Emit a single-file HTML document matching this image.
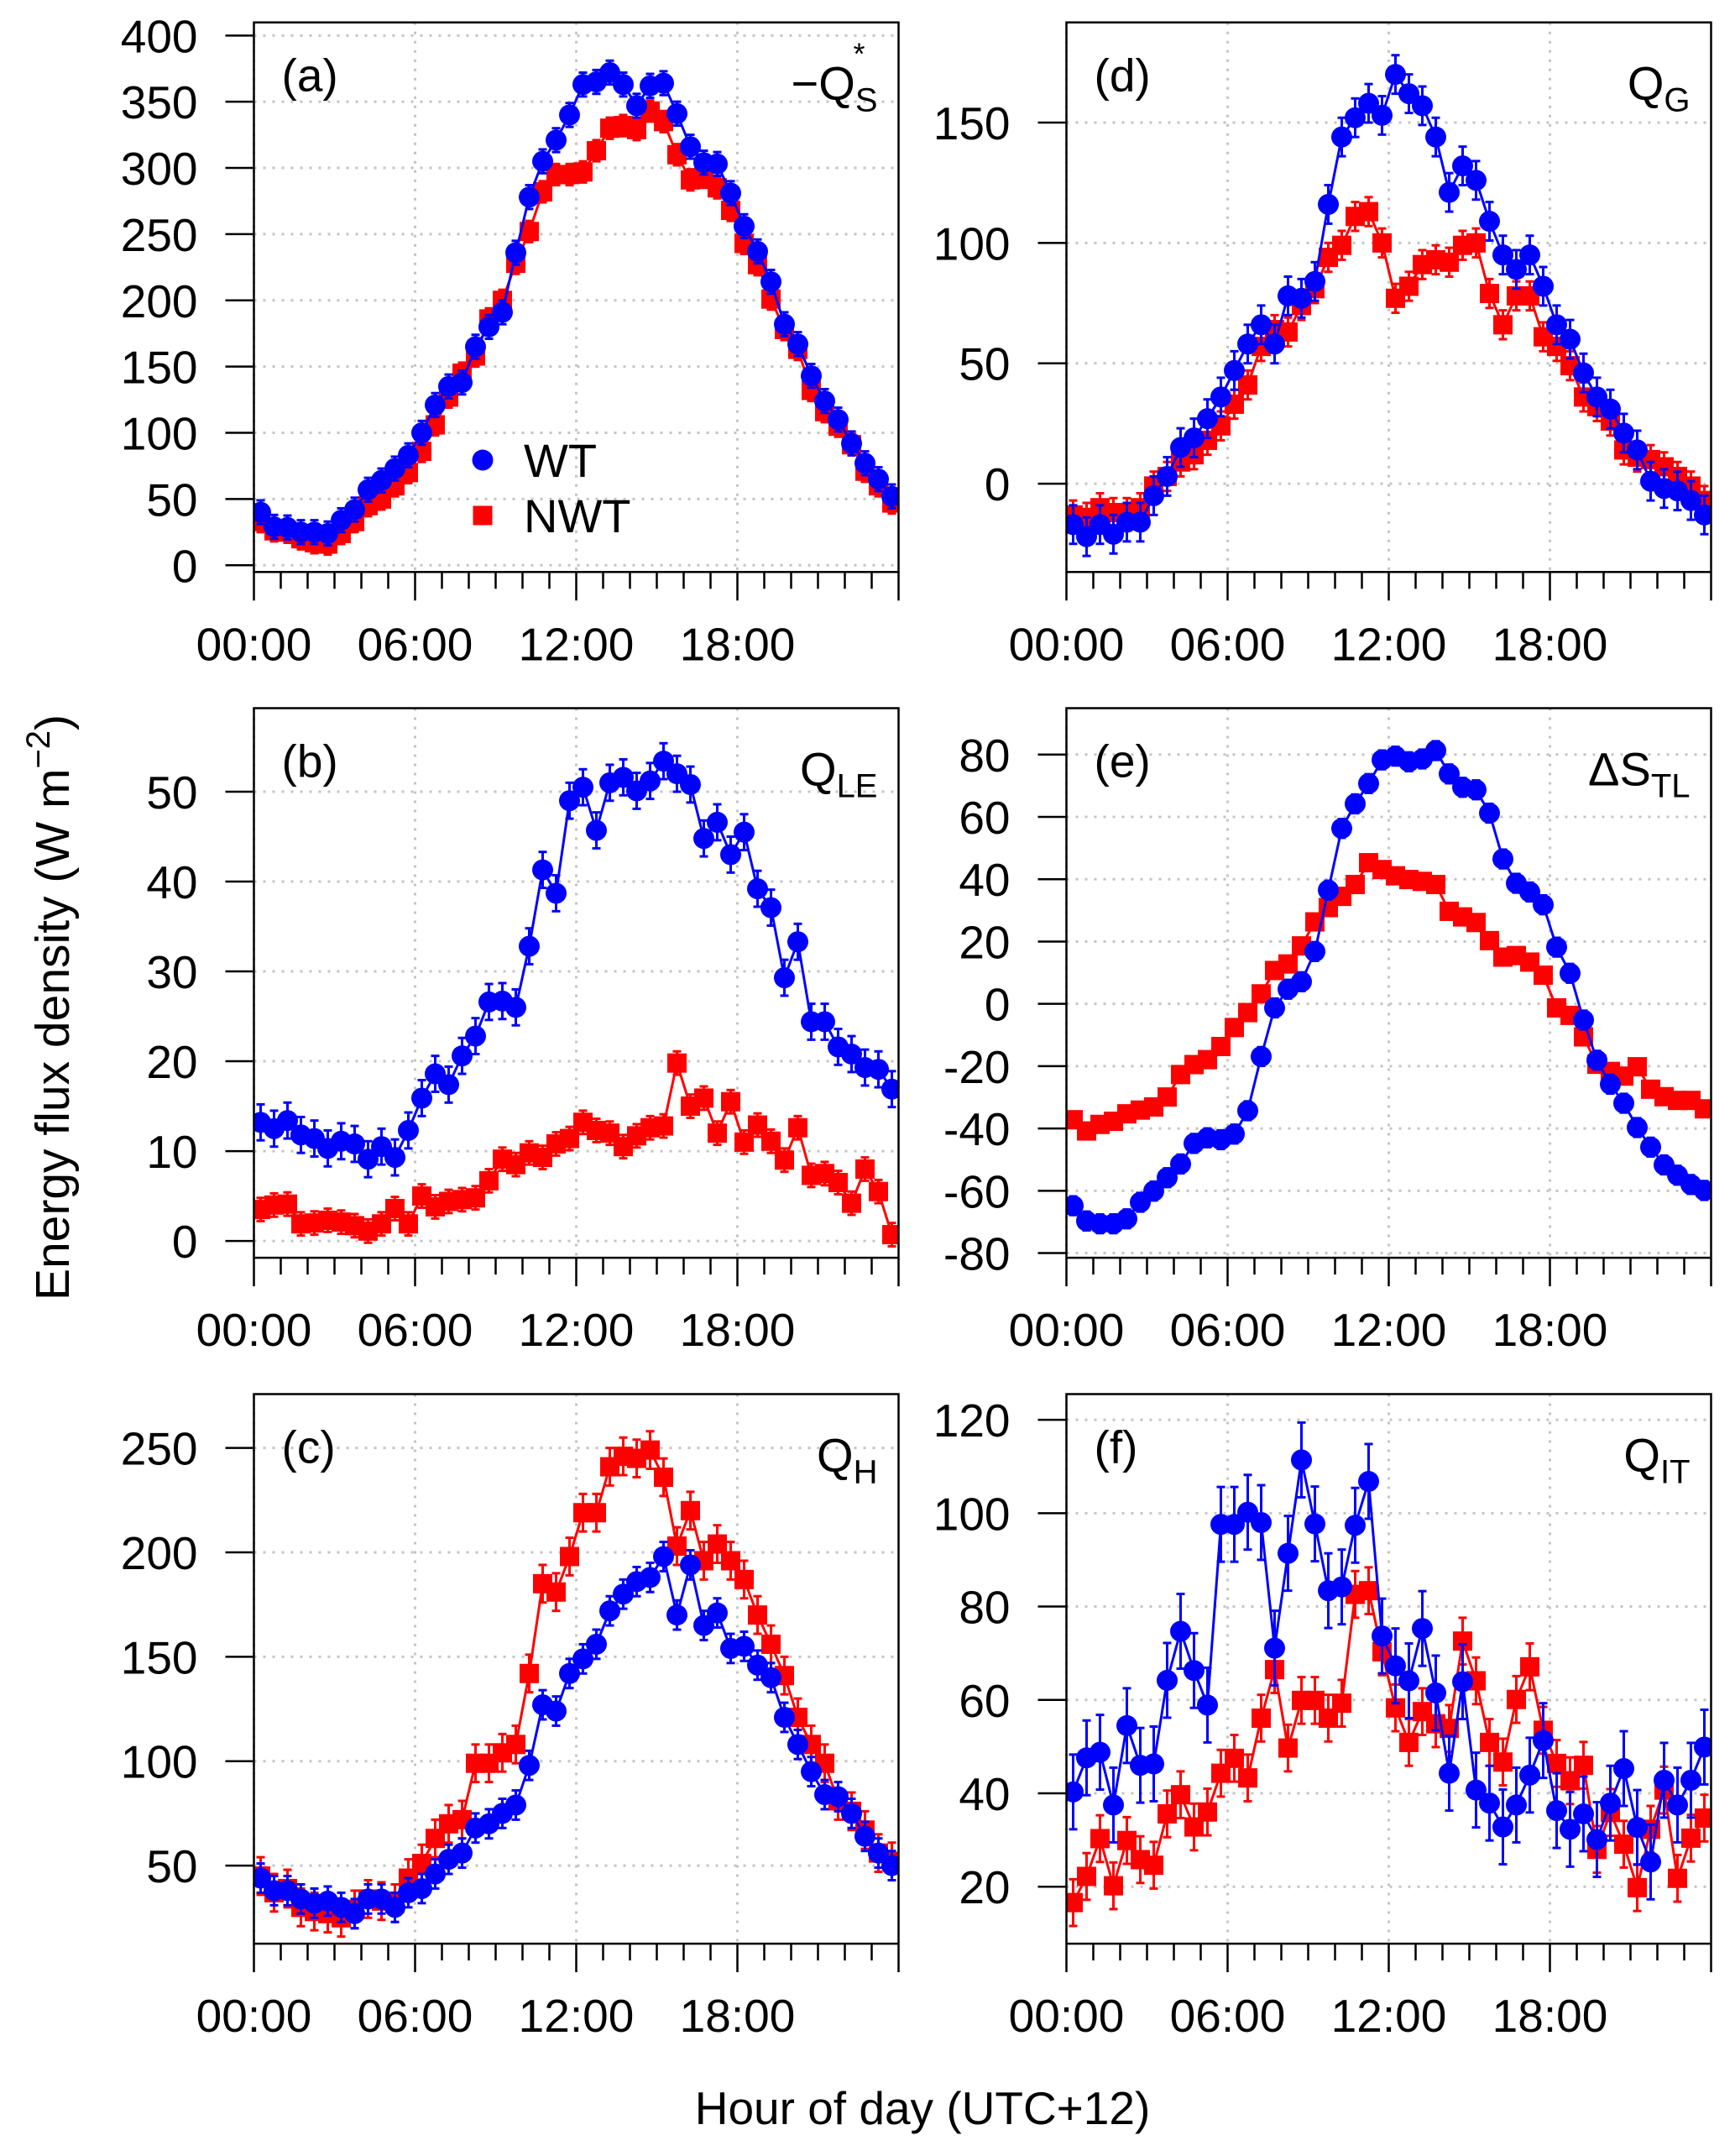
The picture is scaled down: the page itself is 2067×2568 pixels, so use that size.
<!DOCTYPE html>
<html><head><meta charset="utf-8"><style>
html,body{margin:0;padding:0;background:#fff}
svg{display:block;font-family:"Liberation Sans",Arial,sans-serif}
</style></head><body>
<svg id="chart" xmlns="http://www.w3.org/2000/svg" width="2067" height="2568" viewBox="0 0 2067 2568">
<rect x="0" y="0" width="2067" height="2568" fill="#fff"/>
<text transform="translate(82,1200) rotate(-90)" text-anchor="middle" font-size="57">Energy flux density (W m<tspan dy="-23" font-size="40">−2</tspan><tspan dy="23">)</tspan></text>
<text x="1099" y="2530" text-anchor="middle" font-size="55">Hour of day (UTC+12)</text>
</svg>
<script>
const hours=[0.25,0.75,1.25,1.75,2.25,2.75,3.25,3.75,4.25,4.75,5.25,5.75,6.25,6.75,7.25,7.75,8.25,8.75,9.25,9.75,10.25,10.75,11.25,11.75,12.25,12.75,13.25,13.75,14.25,14.75,15.25,15.75,16.25,16.75,17.25,17.75,18.25,18.75,19.25,19.75,20.25,20.75,21.25,21.75,22.25,22.75,23.25,23.75];
const xTicks=[0,6,12,18];
const xTickLabels=["00:00","06:00","12:00","18:00"];

const aWT=[40,29,28.5,25,25,24,34,42,57,64,73,83,100,121,135,138,165,180,191,236,278,305,321,340,363,365,372,363,347,362,364,341,316,304,303,281,256,237,214,182,167,143,124,110,92,77,65,52];
const aNWT=[33,26,25,20,17,16,24,33,45,50,60,70,86,106,127,145,158,186,200,228,252,282,295,295,297,313,330,332,329,343,335,310,291,293,285,268,243,227,201,178,163,132,116,105,91,71,60,47];
const aTicks=[0,50,100,150,200,250,300,350,400];

const bWT=[13.2,12.5,13.4,11.8,11.4,10.3,11.1,10.8,9.1,10.5,9.3,12.3,15.9,18.6,17.4,20.6,22.8,26.6,26.7,26.0,32.8,41.3,38.7,49.0,50.5,45.7,51.0,51.6,50.1,51.2,53.4,52.0,50.8,44.8,46.6,43.0,45.5,39.2,37.1,29.3,33.3,24.4,24.4,21.6,20.8,19.3,19.1,16.9];
const bNWT=[3.5,4.0,4.1,1.9,2.0,2.3,2.1,1.7,1.1,1.9,3.6,1.9,5.0,3.8,4.4,4.6,4.8,6.7,9.1,8.5,9.8,9.3,10.8,11.4,13.2,12.3,12.0,10.5,11.7,12.6,12.8,19.8,15.0,15.9,12.0,15.5,11.0,12.9,11.1,9.0,12.6,7.3,7.5,6.5,4.2,8.0,5.5,0.7];
const bTicks=[0,10,20,30,40,50];

const cWT=[44,38,38,34,32,33,30,27,34,34,30,37,39,46,53,56,68,70,75,79,98,127,124,142,149,156,172,180,186,188,198,170,194,165,171,154,155,146,140,121,108,95,84,83,75,64,56,50];
const cNWT=[45,37,39,30,28,27,25,29,34,33,32,44,51,63,70,72,99,99,104,108,142,185,181,198,219,219,241,246,245,249,236,203,220,196,204,196,187,170,156,141,121,108,99,81,76,67,56,52];
const cTicks=[50,100,150,200,250];

const dWT=[-17,-22,-17,-21,-16,-16,-5,3,15,19,27,36,47,58,66,58,78,77,84,116,144,152,158,153,170,162,157,144,121,132,126,109,95,89,95,82,66,60,46,36,31,21,14,1,-2,-3,-7,-13];
const dNWT=[-13,-14,-10,-12,-12,-10,-1,3,9,12,18,24,33,41,57,64,63,74,81,94,99,111,113,100,77,82,91,93,92,99,100,79,66,78,78,61,57,49,36,32,26,14,11,10,7,3,-1,-7];
const dTicks=[0,50,100,150];

const eWT=[-64.8,-69.7,-70.6,-70.6,-69,-63.7,-60.1,-55.8,-51.4,-44.8,-43,-43.6,-41.8,-34.3,-16.9,-1.3,4.7,7.1,16.8,36.5,56.3,64.2,70.7,78.3,79.5,77.7,78.6,81.3,73.8,69.5,68.7,61.2,46.5,38.7,35.9,31.8,18.2,9.8,-5.2,-18.1,-25.8,-31.9,-39.7,-46,-51.7,-55,-58,-59.9];
const eNWT=[-37.2,-40.8,-38.7,-37.7,-35.3,-34.1,-33.1,-29.9,-22.7,-19.5,-17.9,-13.7,-7.6,-2.8,3.2,10.7,12.8,18.6,26.3,30.9,34.5,38.3,45.3,43.1,41.1,39.9,39.3,38.3,29.7,27.9,26.1,20.3,15.0,15.5,13.4,9.2,-1.3,-3.7,-10.6,-19.4,-21.7,-23.2,-20.2,-27.4,-29.8,-31.0,-31.0,-33.7];
const eTicks=[-80,-60,-40,-20,0,20,40,60,80];

const fWT=[40.3,47.6,48.8,37.5,54.5,46,46.3,64.2,74.7,66.3,58.9,97.6,97.6,100.2,98,71.1,91.4,111.4,97.7,83.4,84.2,97.4,106.8,73.7,67.3,64.1,75.3,61.5,44.3,63.9,40.7,37.9,32.8,37.5,43.9,51.3,36.3,32.3,35.6,30.1,37.9,45.3,32.7,25.3,42.8,37.5,42.8,49.9];
const fNWT=[16.6,22.2,30.3,20.2,29.9,25.8,24.6,35.6,39.7,32.8,36,44.3,47.5,43.3,56.1,66.5,49.7,59.9,59.9,56.1,59.3,82.6,83.4,70.3,58.3,50.9,57.5,54.9,53.9,72.6,64.1,50.9,46.7,60.1,67.1,53.5,46.4,42.7,46,28,35.9,29.1,19.8,32.3,40.7,21.8,30.4,34.7];
const fTicks=[20,40,60,80,100,120];

const errA=[9,8], errB=[2,1.3], errC=[7,9], errD=[8,6], errE=[3,2.5], errF=[8,5];

const NS="http://www.w3.org/2000/svg";
const svg=document.getElementById('chart');
function mk(tag,attrs,parent){const e=document.createElementNS(NS,tag);for(const k in attrs)e.setAttribute(k,attrs[k]);(parent||svg).appendChild(e);return e;}

const X0=[302.5,1270.5], Y0=[26.7,843.5,1660.5], W=768, H=654.6;
const panels=[
 {id:'a',c:0,r:0,ylim:[-5.1,409.9],ticks:aTicks,wt:aWT,nwt:aNWT,err:errA,name:'net-radiation'},
 {id:'b',c:0,r:1,ylim:[-1.87,59.3],ticks:bTicks,wt:bWT,nwt:bNWT,err:errB,name:'latent-heat'},
 {id:'c',c:0,r:2,ylim:[12.6,275.8],ticks:cTicks,wt:cWT,nwt:cNWT,err:errC,name:'sensible-heat'},
 {id:'d',c:1,r:0,ylim:[-36.7,191.6],ticks:dTicks,wt:dWT,nwt:dNWT,err:errD,name:'ground-heat'},
 {id:'e',c:1,r:1,ylim:[-81.5,94.9],ticks:eTicks,wt:eWT,nwt:eNWT,err:errE,name:'storage-change'},
 {id:'f',c:1,r:2,ylim:[7.8,125.5],ticks:fTicks,wt:fWT,nwt:fNWT,err:errF,name:'turf-heat'}
];

panels.forEach(p=>{
 const x0=X0[p.c], y0=Y0[p.r];
 const xs=h=>x0+h/24*W;
 const ys=v=>y0+H*(p.ylim[1]-v)/(p.ylim[1]-p.ylim[0]);
 const g=mk('g',{});
 
 
 const cp=mk('clipPath',{id:'clip'+p.id},g);
 mk('rect',{x:x0,y:y0,width:W,height:H},cp);
 const grid=mk('g',{stroke:'#c4c4c4','stroke-width':3,'stroke-dasharray':'3 8'},g);
 
 
 p.ticks.forEach(t=>{mk('line',{x1:x0,x2:x0+W,y1:ys(t),y2:ys(t)},grid);});
 xTicks.forEach(t=>{mk('line',{x1:xs(t),x2:xs(t),y1:y0,y2:y0+H},grid);});
 const ya=mk('g',{},g);
 
 
 p.ticks.forEach(t=>{
  mk('line',{x1:x0-34,x2:x0,y1:ys(t),y2:ys(t),stroke:'#000','stroke-width':2.5},ya);
  const tx=mk('text',{x:x0-67,y:ys(t)+20,'text-anchor':'end','font-size':55},ya);
  
  
  tx.textContent=t;
 });
 const xa=mk('g',{},g);
 
 
 for(let h=0;h<=24;h++){
  const major=h%6===0;
  mk('line',{x1:xs(h),x2:xs(h),y1:y0+H,y2:y0+H+(major?34:20),stroke:'#000','stroke-width':2.5},xa);
 }
 xTicks.forEach((t,i)=>{
  const tx=mk('text',{x:xs(t),y:y0+H+105,'text-anchor':'middle','font-size':55},xa);
  
  
  tx.textContent=xTickLabels[i];
 });
 const series=[{v:p.nwt,e:p.err[1],col:'#ff0000',shape:'sq',nm:'nwt'},{v:p.wt,e:p.err[0],col:'#0000ff',shape:'ci',nm:'wt'}];
 series.forEach(s=>{
  const sg=mk('g',{'clip-path':'url(#clip'+p.id+')'},g);
  
  
  mk('polyline',{points:s.v.map((v,i)=>xs(hours[i])+','+ys(v)).join(' '),fill:'none',stroke:s.col,'stroke-width':3},sg);
  s.v.forEach((v,i)=>{
   const x=xs(hours[i]);
   mk('line',{x1:x,x2:x,y1:ys(v-s.e),y2:ys(v+s.e),stroke:s.col,'stroke-width':3},sg);
   mk('line',{x1:x-5,x2:x+5,y1:ys(v+s.e),y2:ys(v+s.e),stroke:s.col,'stroke-width':3},sg);
   mk('line',{x1:x-5,x2:x+5,y1:ys(v-s.e),y2:ys(v-s.e),stroke:s.col,'stroke-width':3},sg);
  });
  s.v.forEach((v,i)=>{
   const x=xs(hours[i]),y=ys(v);
   let m;
   if(s.shape==='ci') m=mk('circle',{cx:x,cy:y,r:12.5,fill:s.col},sg);
   else m=mk('rect',{x:x-11.5,y:y-11.5,width:23,height:23,fill:s.col},sg);
   
   
  });
 });
 const bx=mk('rect',{x:x0,y:y0,width:W,height:H,fill:'none',stroke:'#000','stroke-width':2.5},g);
 
 
 const pl=mk('text',{x:x0+33,y:y0+82,'font-size':55},g);
 
 
 pl.textContent='('+p.id+')';
});

function varLabel(px,py,html,name){
 const t=mk('text',{x:px,y:py,'text-anchor':'end','font-size':56});
 
 
 t.innerHTML=html;
 return t;
}
const R0=302.5+768-25, R1=1270.5+768-25;
varLabel(R0,26.7+92,'−Q<tspan font-size="40" dy="14">S</tspan>','variable-label-a');
const st=mk('text',{x:R0-22,y:26.7+50,'font-size':36,'text-anchor':'middle'});


st.textContent='*';
varLabel(R0,843.5+92,'Q<tspan font-size="40" dy="14">LE</tspan>','variable-label-b');
varLabel(R0,1660.5+92,'Q<tspan font-size="40" dy="14">H</tspan>','variable-label-c');
varLabel(R1,26.7+92,'Q<tspan font-size="40" dy="14">G</tspan>','variable-label-d');
varLabel(R1,843.5+92,'ΔS<tspan font-size="40" dy="14">TL</tspan>','variable-label-e');
varLabel(R1,1660.5+92,'Q<tspan font-size="40" dy="14">IT</tspan>','variable-label-f');

const lg=mk('g',{});


const l1=mk('circle',{cx:575,cy:548,r:12.5,fill:'#0000ff'},lg);


const t1=mk('text',{x:624,y:568,'font-size':56},lg);


t1.textContent='WT';
const l2=mk('rect',{x:563.5,y:602.5,width:23,height:23,fill:'#ff0000'},lg);


const t2=mk('text',{x:624,y:634,'font-size':56},lg);


t2.textContent='NWT';
</script>
</body></html>
